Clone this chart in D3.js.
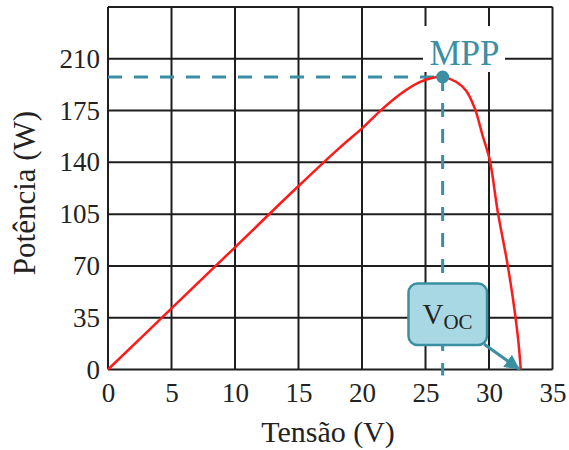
<!DOCTYPE html>
<html>
<head>
<meta charset="utf-8">
<script src="https://cdn.jsdelivr.net/npm/d3@7"></script>
<style>
  html, body { margin: 0; padding: 0; background: #fff; }
  svg { display: block; }
  svg text { font-family: "Liberation Serif", "Tinos", "Times New Roman", "DejaVu Serif", serif; }
</style>
</head>
<body>
<svg id="chart" width="569" height="450"></svg>
<script>
// ---- data ----
const xTickValues = [0, 5, 10, 15, 20, 25, 30, 35];
const yTickValues = [0, 35, 70, 105, 140, 175, 210];
const yGridValues = [0, 35, 70, 105, 140, 175, 210, 245];
const voltage = [0, 5, 10, 15, 18.25, 20, 21.4, 23, 24.5, 25.5, 26.35, 27.4, 28.2, 28.9, 29.5, 30.05, 30.7, 31.4, 31.9, 32.3, 32.5];
const power   = [0, 41.3, 82.6, 124, 150, 163, 174.5, 186, 194, 197, 197.7, 194.5, 188.4, 176, 158, 142, 106, 74, 47, 20, 0];
const mppPoint = [26.35, 197.7];
const vocPoint = [32.5, 0];
const xLabel = "Tensão (V)";
const yLabel = "Potência (W)";

const FONT = '"Liberation Serif", "Tinos", "Times New Roman", "DejaVu Serif", serif';
const svg = d3.select("#chart");
const x = d3.scaleLinear().domain([0, 35]).range([108, 552.5]);
const y = d3.scaleLinear().domain([0, 245]).range([369.5, 7]);

const teal = "#3b8fa3";
const gridColor = "#1e1e1e";

// grid
const grid = svg.append("g");
grid.selectAll("line.v").data(xTickValues).join("line")
  .attr("x1", d => x(d)).attr("x2", d => x(d))
  .attr("y1", y(245)).attr("y2", y(0))
  .attr("stroke", gridColor).attr("stroke-width", 2);
grid.selectAll("line.h").data(yGridValues).join("line")
  .attr("y1", d => y(d)).attr("y2", d => y(d))
  .attr("x1", x(0)).attr("x2", x(35))
  .attr("stroke", gridColor).attr("stroke-width", 2);

// axes labels (no tick lines)
const xAxis = svg.append("g").attr("transform", `translate(0,${y(0)})`)
  .call(d3.axisBottom(x).tickValues(xTickValues).tickSize(0).tickPadding(13));
const yAxis = svg.append("g").attr("transform", `translate(${x(0)},0)`)
  .call(d3.axisLeft(y).tickValues(yTickValues).tickSize(0).tickPadding(8));
[xAxis, yAxis].forEach(a => {
  a.attr("font-family", FONT);
  a.select(".domain").remove();
  a.selectAll("text").style("font-family", FONT)
    .attr("font-size", 27).attr("fill", "#222");
});

svg.append("text").text(xLabel).style("font-family", FONT)
  .attr("x", 328).attr("y", 442)
  .attr("text-anchor", "middle").attr("font-size", 30).attr("fill", "#222");
svg.append("text").text(yLabel).style("font-family", FONT)
  .attr("transform", "translate(35,193) rotate(-90)")
  .attr("text-anchor", "middle").attr("font-size", 31).attr("fill", "#222");

// MPP label background
svg.append("rect").attr("x", 423).attr("y", 26).attr("width", 82).attr("height", 46).attr("fill", "#fff");
svg.append("text").text("MPP").style("font-family", FONT)
  .attr("x", 464.5).attr("y", 65)
  .attr("text-anchor", "middle").attr("font-size", 35).attr("fill", teal);

// dashed guides
svg.append("line")
  .attr("x1", x(0)).attr("x2", x(mppPoint[0]))
  .attr("y1", y(mppPoint[1])).attr("y2", y(mppPoint[1]))
  .attr("stroke", teal).attr("stroke-width", 3).attr("stroke-dasharray", "14,12");
svg.append("line")
  .attr("x1", x(mppPoint[0])).attr("x2", x(mppPoint[0]))
  .attr("y1", y(mppPoint[1])).attr("y2", y(0) + 6)
  .attr("stroke", teal).attr("stroke-width", 3).attr("stroke-dasharray", "14,12");

// curve
const line = d3.line().x(d => x(d[0])).y(d => y(d[1])).curve(d3.curveCatmullRom.alpha(0.5));
svg.append("path").datum(voltage.map((v, i) => [v, power[i]]))
  .attr("d", line).attr("fill", "none").attr("stroke", "#ff1a1a").attr("stroke-width", 2.5);

// MPP dot
svg.append("circle").attr("cx", x(mppPoint[0])).attr("cy", y(mppPoint[1])).attr("r", 6.5).attr("fill", teal);

// VOC callout
const defs = svg.append("defs");
defs.append("marker").attr("id", "arr").attr("viewBox", "0 0 10 10")
  .attr("refX", 10).attr("refY", 5).attr("markerWidth", 5).attr("markerHeight", 5)
  .attr("orient", "auto").attr("markerUnits", "strokeWidth")
  .append("path").attr("d", "M0,0 L10,5 L0,10 z").attr("fill", teal);
svg.append("line")
  .attr("x1", 484).attr("y1", 344)
  .attr("x2", x(vocPoint[0]) - 1).attr("y2", y(vocPoint[1]))
  .attr("stroke", teal).attr("stroke-width", 3).attr("marker-end", "url(#arr)");
svg.append("rect").attr("x", 408.5).attr("y", 283.5).attr("width", 78.5).attr("height", 61.5)
  .attr("rx", 9).attr("fill", "#a9d8e5").attr("stroke", teal).attr("stroke-width", 2.5);
const vt = svg.append("text").style("font-family", FONT).attr("x", 447.5).attr("y", 324).attr("text-anchor", "middle").attr("fill", "#222");
vt.append("tspan").text("V").attr("font-size", 29);
vt.append("tspan").text("OC").attr("font-size", 21).attr("dy", 5);
</script>
</body>
</html>
